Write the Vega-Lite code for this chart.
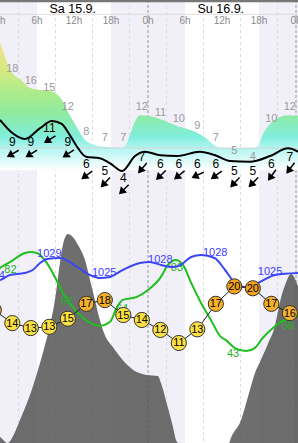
{
  "$schema": "https://vega.github.io/schema/vega-lite/v6.json",
  "width": 298,
  "height": 443,
  "autosize": {"type": "none"},
  "padding": 0,
  "background": "white",
  "config": {"view": {"stroke": null}, "font": "Liberation Sans"},
  "datasets": {
    "nights": [{"h": -2, "h2": 6}, {"h": 18, "h2": 30}, {"h": 42, "h2": 50}],
    "grid": [{"h": 3}, {"h": 9}, {"h": 15}, {"h": 21}, {"h": 27}, {"h": 33}, {"h": 39}, {"h": 45}],
    "midnights": [{"h": 24}, {"h": 48}],
    "one": [{"k": 1}],
    "days": [{"h": 11.8, "label": "Sa 15.9."}, {"h": 35.8, "label": "Su 16.9."}],
    "hours": [{"h": 0, "label": "0h"}, {"h": 6, "label": "6h"}, {"h": 12, "label": "12h"}, {"h": 18, "label": "18h"}, {"h": 24, "label": "0h"}, {"h": 30, "label": "6h"}, {"h": 36, "label": "12h"}, {"h": 42, "label": "18h"}, {"h": 48, "label": "0h"}],
    "topArea": [
      {"h": 0, "v": 23.1}, {"h": 1.95, "v": 18.2}, {"h": 3.24, "v": 17.2}, {"h": 4.86, "v": 15.8}, {"h": 6.49, "v": 15.5}, {"h": 7.78, "v": 15.4}, {"h": 8.92, "v": 15.0}, {"h": 10.05, "v": 13.9}, {"h": 11.03, "v": 12.0}, {"h": 12.16, "v": 10.1}, {"h": 13.78, "v": 7.6}, {"h": 15.4, "v": 6.8}, {"h": 16.7, "v": 6.5}, {"h": 19.8, "v": 6.4}, {"h": 20.3, "v": 6.6}, {"h": 21.1, "v": 8.5}, {"h": 21.9, "v": 10.5}, {"h": 22.7, "v": 11.5}, {"h": 24, "v": 11.4}, {"h": 25.95, "v": 10.9}, {"h": 28.7, "v": 9.8}, {"h": 30.8, "v": 9.2}, {"h": 31.8, "v": 8.8}, {"h": 33.2, "v": 8.0}, {"h": 34.7, "v": 6.8}, {"h": 35.7, "v": 6.35}, {"h": 37.8, "v": 6.3}, {"h": 40.7, "v": 6.3}, {"h": 41.8, "v": 6.5}, {"h": 42.6, "v": 8.4}, {"h": 43.8, "v": 10.1}, {"h": 45.4, "v": 11.2}, {"h": 46.7, "v": 11.5}, {"h": 48.4, "v": 11.4}
    ],
    "topLabels": [
      {"h": 2, "v": 18}, {"h": 5, "v": 16}, {"h": 8, "v": 15}, {"h": 11, "v": 12}, {"h": 14, "v": 8}, {"h": 17, "v": 7}, {"h": 20, "v": 7}, {"h": 23, "v": 12}, {"h": 26, "v": 11}, {"h": 29, "v": 10}, {"h": 32, "v": 9}, {"h": 35, "v": 7}, {"h": 38, "v": 5}, {"h": 41, "v": 4}, {"h": 44, "v": 10}, {"h": 47, "v": 12}
    ],
    "windLine": [
      {"h": 0, "v": 11.15}, {"h": 1.8, "v": 9.47}, {"h": 4.05, "v": 8.5}, {"h": 6.5, "v": 10}, {"h": 8.4, "v": 11}, {"h": 10, "v": 10.6}, {"h": 11.35, "v": 9}, {"h": 12.65, "v": 7.2}, {"h": 13.95, "v": 6}, {"h": 16.2, "v": 5.8}, {"h": 17.8, "v": 5.1}, {"h": 19.8, "v": 4}, {"h": 21.9, "v": 6.1}, {"h": 23.5, "v": 6.7}, {"h": 26, "v": 6.2}, {"h": 28.7, "v": 6.1}, {"h": 32.4, "v": 6.7}, {"h": 34.9, "v": 6.2}, {"h": 37.3, "v": 5.4}, {"h": 40.5, "v": 5.3}, {"h": 43.8, "v": 6.1}, {"h": 46.7, "v": 7.2}, {"h": 48.4, "v": 6.7}
    ],
    "wind": [
      {"h": 2, "v": 9, "dir": 60}, {"h": 5, "v": 9, "dir": 58}, {"h": 8, "v": 11, "dir": 58}, {"h": 11, "v": 9, "dir": 56}, {"h": 14, "v": 6, "dir": 54}, {"h": 17, "v": 5, "dir": 43}, {"h": 20, "v": 4, "dir": 45}, {"h": 23, "v": 7, "dir": 40}, {"h": 26, "v": 6, "dir": 46}, {"h": 29, "v": 6, "dir": 51}, {"h": 32, "v": 6, "dir": 65}, {"h": 35, "v": 6, "dir": 54}, {"h": 38, "v": 5, "dir": 43}, {"h": 41, "v": 5, "dir": 45}, {"h": 44, "v": 6, "dir": 36}, {"h": 47, "v": 7, "dir": 37}
    ],
    "cloud": [
      {"h": -1, "v": 6}, {"h": 0, "v": 3}, {"h": 1.3, "v": 0}, {"h": 1.95, "v": 2.4}, {"h": 3.24, "v": 11}, {"h": 4.86, "v": 22.9}, {"h": 6.16, "v": 34.8}, {"h": 7.3, "v": 46.7}, {"h": 8.1, "v": 56}, {"h": 8.9, "v": 68}, {"h": 9.73, "v": 86}, {"h": 10.4, "v": 96.7}, {"h": 11.03, "v": 99.5}, {"h": 11.84, "v": 98}, {"h": 12.65, "v": 94.3}, {"h": 13.8, "v": 87}, {"h": 14.6, "v": 77.6}, {"h": 15.4, "v": 68}, {"h": 16.2, "v": 58.6}, {"h": 17.0, "v": 51.4}, {"h": 18.3, "v": 45.7}, {"h": 19.9, "v": 39.5}, {"h": 21.6, "v": 34.8}, {"h": 23.8, "v": 32.4}, {"h": 25.6, "v": 31.9}, {"h": 26.1, "v": 28.6}, {"h": 27.2, "v": 17.1}, {"h": 28.05, "v": 7.6}, {"h": 28.55, "v": 1.4}, {"h": 28.9, "v": 0}, {"h": 37.1, "v": 0}, {"h": 37.5, "v": 2.9}, {"h": 39.1, "v": 11}, {"h": 40.2, "v": 21.9}, {"h": 41.35, "v": 33.3}, {"h": 42.3, "v": 39.5}, {"h": 43.5, "v": 47.6}, {"h": 44.6, "v": 56}, {"h": 45.1, "v": 63}, {"h": 45.6, "v": 69.5}, {"h": 46.2, "v": 75}, {"h": 47.2, "v": 80.5}, {"h": 48.4, "v": 74}
    ],
    "hum": [
      {"h": -1, "v": 77}, {"h": 0, "v": 79.7}, {"h": 1.6, "v": 82.5}, {"h": 4.05, "v": 86.7}, {"h": 4.86, "v": 87.2}, {"h": 6, "v": 86.7}, {"h": 7.6, "v": 82}, {"h": 8.9, "v": 75.6}, {"h": 10.2, "v": 68.1}, {"h": 11.8, "v": 61.6}, {"h": 13.5, "v": 56.5}, {"h": 14.6, "v": 54.2}, {"h": 16.2, "v": 52.8}, {"h": 17.8, "v": 54.6}, {"h": 19, "v": 61.6}, {"h": 19.9, "v": 64.9}, {"h": 22.2, "v": 66.3}, {"h": 24, "v": 69.5}, {"h": 26.1, "v": 75.6}, {"h": 27.2, "v": 81.1}, {"h": 28.5, "v": 83.5}, {"h": 29.7, "v": 81.1}, {"h": 31, "v": 72.8}, {"h": 32.6, "v": 63.5}, {"h": 34.2, "v": 55.6}, {"h": 35.8, "v": 47.7}, {"h": 36.6, "v": 46.3}, {"h": 38.1, "v": 42.5}, {"h": 39.9, "v": 41.1}, {"h": 41.3, "v": 42.5}, {"h": 42.6, "v": 47.2}, {"h": 43.9, "v": 50.9}, {"h": 45.5, "v": 54.6}, {"h": 46.7, "v": 56}, {"h": 48.4, "v": 57.9}
    ],
    "humLabels": [
      {"h": 1.7, "v": 82}, {"h": 10.8, "v": 67}, {"h": 19.8, "v": 64}, {"h": 28.7, "v": 83}, {"h": 37.8, "v": 43}, {"h": 46.7, "v": 56}
    ],
    "pres": [
      {"h": -1, "v": 1024.4}, {"h": 0, "v": 1024.6}, {"h": 1.6, "v": 1025.6}, {"h": 4, "v": 1026}, {"h": 5.3, "v": 1026.6}, {"h": 6.5, "v": 1028}, {"h": 7.6, "v": 1028.8}, {"h": 9.7, "v": 1029}, {"h": 12.5, "v": 1027.2}, {"h": 14.6, "v": 1025.6}, {"h": 16.2, "v": 1025}, {"h": 17.8, "v": 1025.2}, {"h": 19.9, "v": 1026.6}, {"h": 22.7, "v": 1028}, {"h": 24.3, "v": 1028.2}, {"h": 26.1, "v": 1027.6}, {"h": 28, "v": 1027.2}, {"h": 29.3, "v": 1027.6}, {"h": 31, "v": 1029.2}, {"h": 32.6, "v": 1029.6}, {"h": 34.8, "v": 1029}, {"h": 36.5, "v": 1026.6}, {"h": 38.1, "v": 1024}, {"h": 39.7, "v": 1023.2}, {"h": 41.8, "v": 1024}, {"h": 44.6, "v": 1025.6}, {"h": 48.4, "v": 1026}
    ],
    "presLabels": [
      {"h": -1.2, "v": 1024.4, "label": "1024"}, {"h": 8, "v": 1028.9, "label": "1029"}, {"h": 16.9, "v": 1025.1, "label": "1025"}, {"h": 26, "v": 1027.6, "label": "1028"}, {"h": 34.9, "v": 1029, "label": "1028"}, {"h": 43.8, "v": 1025.3, "label": "1025"}
    ],
    "temps": [
      {"h": -1, "t": 16.3, "lbl": 16}, {"h": 2, "t": 14.2, "lbl": 14}, {"h": 5, "t": 13.4, "lbl": 13}, {"h": 8, "t": 13.6, "lbl": 13}, {"h": 11, "t": 14.9, "lbl": 15}, {"h": 14, "t": 17.3, "lbl": 17}, {"h": 17, "t": 17.9, "lbl": 18}, {"h": 20, "t": 15.5, "lbl": 15}, {"h": 23, "t": 14.7, "lbl": 14}, {"h": 26, "t": 13.1, "lbl": 12}, {"h": 29, "t": 11, "lbl": 11}, {"h": 32, "t": 13.2, "lbl": 13}, {"h": 35, "t": 17.3, "lbl": 17}, {"h": 38, "t": 20.1, "lbl": 20}, {"h": 41, "t": 19.8, "lbl": 20}, {"h": 44, "t": 17.3, "lbl": 17}, {"h": 47, "t": 15.8, "lbl": 16}
    ]
  },
  "layer": [
    {
      "data": {"name": "nights"},
      "mark": {"type": "rect", "fill": "#f1f0f8"},
      "encoding": {
        "x": {"field": "h", "type": "quantitative", "scale": {"domain": [0, 48.324], "nice": false, "zero": false}, "axis": null},
        "x2": {"field": "h2"}
      }
    },
    {
      "data": {"name": "grid"},
      "mark": {"type": "rule", "stroke": "#dcdcdc", "strokeWidth": 1, "strokeDash": [3, 3]},
      "encoding": {
        "x": {"field": "h", "type": "quantitative", "scale": {"domain": [0, 48.324], "nice": false, "zero": false}, "axis": null}
      }
    },
    {
      "data": {"name": "midnights"},
      "mark": {"type": "rule", "stroke": "#c4c4c4", "strokeWidth": 2, "strokeDash": [3, 2]},
      "encoding": {
        "x": {"field": "h", "type": "quantitative", "scale": {"domain": [0, 48.324], "nice": false, "zero": false}, "axis": null}
      }
    },
    {
      "data": {"name": "one"},
      "mark": {"type": "rule", "stroke": "#777777", "strokeWidth": 2.5},
      "encoding": {
        "y": {"datum": "top", "type": "nominal", "scale": {"type": "point", "domain": ["top", "day", "sep", "hour"], "range": [1, 21], "padding": 0}, "axis": null}
      }
    },
    {
      "data": {"name": "one"},
      "mark": {"type": "rule", "stroke": "#dddddd", "strokeWidth": 1},
      "encoding": {
        "y": {"datum": "sep", "type": "nominal", "scale": {"type": "point", "domain": ["top", "day", "sep", "hour"], "range": [1, 21], "padding": 0}, "axis": null}
      }
    },
    {
      "data": {"name": "days"},
      "mark": {"type": "text", "fontSize": 12.5, "color": "#000000", "align": "center", "baseline": "middle", "dy": 1},
      "encoding": {
        "x": {"field": "h", "type": "quantitative", "scale": {"domain": [0, 48.324], "nice": false, "zero": false}, "axis": null},
        "y": {"datum": "day", "type": "nominal", "scale": {"type": "point", "domain": ["top", "day", "sep", "hour"], "range": [1, 21], "padding": 0}, "axis": null},
        "text": {"field": "label"}
      }
    },
    {
      "data": {"name": "hours"},
      "mark": {"type": "text", "fontSize": 10, "color": "#8a8a8a", "align": "center", "baseline": "middle", "dy": -0.5},
      "encoding": {
        "x": {"field": "h", "type": "quantitative", "scale": {"domain": [0, 48.324], "nice": false, "zero": false}, "axis": null},
        "y": {"datum": "hour", "type": "nominal", "scale": {"type": "point", "domain": ["top", "day", "sep", "hour"], "range": [1, 21], "padding": 0}, "axis": null},
        "text": {"field": "label"}
      }
    },
    {
      "data": {"name": "topArea"},
      "mark": {
        "type": "area",
        "interpolate": "monotone",
        "color": {
          "gradient": "linear",
          "x1": 0, "y1": 0, "x2": 0, "y2": 1,
          "stops": [
            {"offset": 0, "color": "#f7e08a"},
            {"offset": 0.22, "color": "#d6ea82"},
            {"offset": 0.41, "color": "#a8ec8c"},
            {"offset": 0.57, "color": "#8eeaa4"},
            {"offset": 0.74, "color": "#80eedc"},
            {"offset": 0.84, "color": "#b8f6f2"},
            {"offset": 1, "color": "#ffffff"}
          ]
        }
      },
      "encoding": {
        "x": {"field": "h", "type": "quantitative", "scale": {"domain": [0, 48.324], "nice": false, "zero": false}, "axis": null},
        "y": {"field": "v", "type": "quantitative", "scale": {"domain": [0, 20], "range": [188, 61.4], "nice": false, "zero": false}, "axis": null},
        "y2": {"datum": 2.8}
      }
    },
    {
      "data": {"name": "one"},
      "mark": {"type": "rule", "stroke": "#d4d4d4", "strokeWidth": 1},
      "encoding": {
        "y": {"datum": 6.3, "type": "quantitative", "scale": {"domain": [0, 20], "range": [188, 61.4], "nice": false, "zero": false}, "axis": null}
      }
    },
    {
      "data": {"name": "topLabels"},
      "mark": {"type": "text", "fontSize": 11, "color": "#999999", "align": "center", "baseline": "middle", "dy": -5.5},
      "encoding": {
        "x": {"field": "h", "type": "quantitative", "scale": {"domain": [0, 48.324], "nice": false, "zero": false}, "axis": null},
        "y": {"field": "v", "type": "quantitative", "scale": {"domain": [0, 20], "range": [188, 61.4], "nice": false, "zero": false}, "axis": null},
        "text": {"field": "v", "type": "quantitative"}
      }
    },
    {
      "data": {"name": "windLine"},
      "mark": {"type": "line", "interpolate": "monotone", "color": "#000000", "strokeWidth": 2},
      "encoding": {
        "x": {"field": "h", "type": "quantitative", "scale": {"domain": [0, 48.324], "nice": false, "zero": false}, "axis": null},
        "y": {"field": "v", "type": "quantitative", "scale": {"domain": [0, 12], "range": [199.6, 113.9], "nice": false, "zero": false}, "axis": null}
      }
    },
    {
      "data": {"name": "wind"},
      "mark": {"type": "text", "fontSize": 12, "color": "#000000", "align": "center", "baseline": "middle", "dy": 7},
      "encoding": {
        "x": {"field": "h", "type": "quantitative", "scale": {"domain": [0, 48.324], "nice": false, "zero": false}, "axis": null},
        "y": {"field": "v", "type": "quantitative", "scale": {"domain": [0, 12], "range": [199.6, 113.9], "nice": false, "zero": false}, "axis": null},
        "text": {"field": "v", "type": "quantitative"}
      }
    },
    {
      "data": {"name": "wind"},
      "mark": {"type": "point", "shape": "M0,-1L0,0.4M-0.5,0.2L0,1L0.5,0.2Z", "filled": true, "fill": "#000000", "stroke": "#000000", "strokeWidth": 1.5, "size": 150, "opacity": 1, "yOffset": 18, "xOffset": 1},
      "encoding": {
        "x": {"field": "h", "type": "quantitative", "scale": {"domain": [0, 48.324], "nice": false, "zero": false}, "axis": null},
        "y": {"field": "v", "type": "quantitative", "scale": {"domain": [0, 12], "range": [199.6, 113.9], "nice": false, "zero": false}, "axis": null},
        "angle": {"field": "dir", "type": "quantitative", "scale": null}
      }
    },
    {
      "data": {"name": "cloud"},
      "mark": {"type": "area", "interpolate": "monotone", "color": "#555555", "opacity": 0.85},
      "encoding": {
        "x": {"field": "h", "type": "quantitative", "scale": {"domain": [0, 48.324], "nice": false, "zero": false}, "axis": null},
        "y": {"field": "v", "type": "quantitative", "scale": {"domain": [0, 100], "range": [443, 233], "nice": false, "zero": false}, "axis": null},
        "y2": {"datum": 0}
      }
    },
    {
      "data": {"name": "hum"},
      "mark": {"type": "line", "interpolate": "monotone", "color": "#1fbf1f", "strokeWidth": 2},
      "encoding": {
        "x": {"field": "h", "type": "quantitative", "scale": {"domain": [0, 48.324], "nice": false, "zero": false}, "axis": null},
        "y": {"field": "v", "type": "quantitative", "scale": {"domain": [40, 90], "range": [353.45, 245.95], "nice": false, "zero": false}, "axis": null}
      }
    },
    {
      "data": {"name": "humLabels"},
      "mark": {"type": "text", "fontSize": 11, "color": "#22b422", "align": "center", "baseline": "middle", "dy": 7},
      "encoding": {
        "x": {"field": "h", "type": "quantitative", "scale": {"domain": [0, 48.324], "nice": false, "zero": false}, "axis": null},
        "y": {"field": "v", "type": "quantitative", "scale": {"domain": [40, 90], "range": [353.45, 245.95], "nice": false, "zero": false}, "axis": null},
        "text": {"field": "v", "type": "quantitative"}
      }
    },
    {
      "data": {"name": "pres"},
      "mark": {"type": "line", "interpolate": "monotone", "color": "#3c46f5", "strokeWidth": 2},
      "encoding": {
        "x": {"field": "h", "type": "quantitative", "scale": {"domain": [0, 48.324], "nice": false, "zero": false}, "axis": null},
        "y": {"field": "v", "type": "quantitative", "scale": {"domain": [1020, 1030], "range": [303, 253], "nice": false, "zero": false}, "axis": null}
      }
    },
    {
      "data": {"name": "presLabels"},
      "mark": {"type": "text", "fontSize": 11, "color": "#3c3cff", "align": "center", "baseline": "middle", "dy": -5},
      "encoding": {
        "x": {"field": "h", "type": "quantitative", "scale": {"domain": [0, 48.324], "nice": false, "zero": false}, "axis": null},
        "y": {"field": "v", "type": "quantitative", "scale": {"domain": [1020, 1030], "range": [303, 253], "nice": false, "zero": false}, "axis": null},
        "text": {"field": "label"}
      }
    },
    {
      "data": {"name": "temps"},
      "mark": {"type": "line", "color": "#222222", "strokeWidth": 1},
      "encoding": {
        "x": {"field": "h", "type": "quantitative", "scale": {"domain": [0, 48.324], "nice": false, "zero": false}, "axis": null},
        "y": {"field": "t", "type": "quantitative", "scale": {"domain": [10, 22], "range": [349.2, 274.6], "nice": false, "zero": false}, "axis": null}
      }
    },
    {
      "data": {"name": "temps"},
      "mark": {"type": "point", "filled": true, "size": 230, "stroke": "#333333", "strokeWidth": 1, "opacity": 1},
      "encoding": {
        "x": {"field": "h", "type": "quantitative", "scale": {"domain": [0, 48.324], "nice": false, "zero": false}, "axis": null},
        "y": {"field": "t", "type": "quantitative", "scale": {"domain": [10, 22], "range": [349.2, 274.6], "nice": false, "zero": false}, "axis": null},
        "color": {"field": "lbl", "type": "quantitative", "scale": {"type": "threshold", "domain": [16, 19], "range": ["#fbe043", "#f7b02a", "#f3a21e"]}, "legend": null}
      }
    },
    {
      "data": {"name": "temps"},
      "mark": {"type": "text", "fontSize": 11, "color": "#000000", "align": "center", "baseline": "middle", "dy": 0.5},
      "encoding": {
        "x": {"field": "h", "type": "quantitative", "scale": {"domain": [0, 48.324], "nice": false, "zero": false}, "axis": null},
        "y": {"field": "t", "type": "quantitative", "scale": {"domain": [10, 22], "range": [349.2, 274.6], "nice": false, "zero": false}, "axis": null},
        "text": {"field": "lbl", "type": "quantitative"}
      }
    }
  ],
  "resolve": {"scale": {"y": "independent", "color": "independent"}}
}
